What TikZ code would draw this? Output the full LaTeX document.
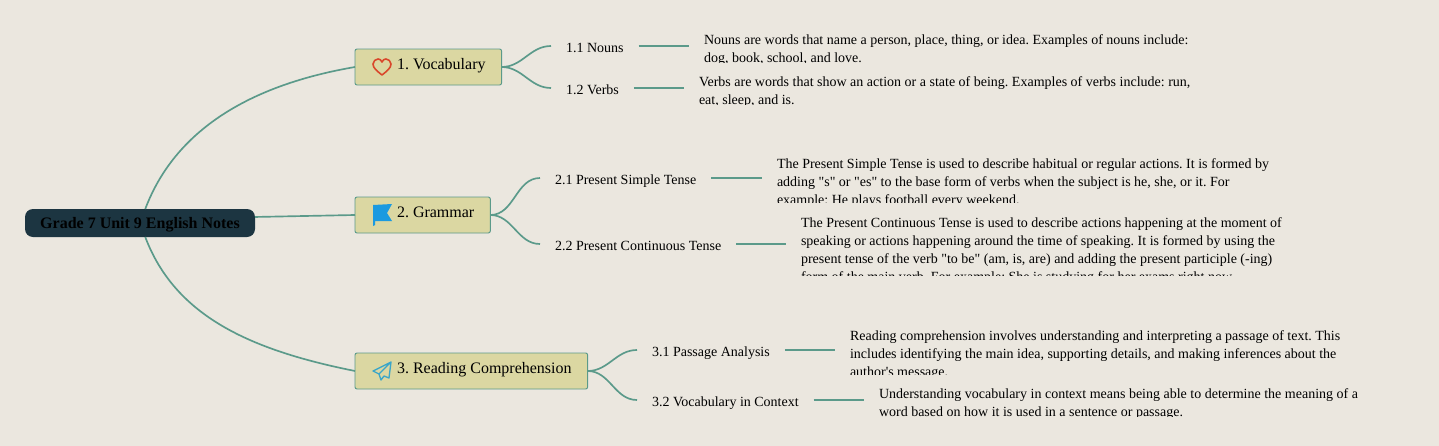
\documentclass[tikz,border=0pt]{standalone}
\usepackage{fontspec}
\setmainfont{Liberation Serif}[Ligatures=TeXOff]
\frenchspacing
\definecolor{paper}{HTML}{EBE7DF}
\definecolor{rootfill}{HTML}{1C3541}
\definecolor{topicfill}{HTML}{DBD7A2}
\definecolor{branchcol}{HTML}{5B9A8A}
\definecolor{heartcol}{HTML}{D9472B}
\definecolor{flagcol}{HTML}{1B9AE0}
\definecolor{planecol}{HTML}{3BA6C8}
\tikzset{
  root/.style={fill=rootfill, rounded corners=6pt, minimum width=172.5pt, minimum height=21pt,
    inner sep=0pt, outer sep=0pt, text height=8pt, text depth=0pt, font=\fontsize{12}{14}\selectfont\bfseries},
  topic/.style={draw=branchcol, fill=topicfill, line width=0.7pt, rounded corners=1.5pt, anchor=west,
    minimum height=27pt, inner xsep=12pt, inner ysep=0pt, outer sep=0pt, text height=10pt, text depth=6.2pt,
    font=\fontsize{12}{14}\selectfont},
  leaf/.style={anchor=west, inner xsep=11.25pt, inner ysep=0pt, outer sep=0pt, text height=9pt, text depth=0pt,
    font=\fontsize{10.5}{13.5}\selectfont},
  note/.style={anchor=west, inner xsep=11.25pt, inner ysep=0pt, outer sep=0pt,
    font=\fontsize{10.5}{13.5}\selectfont},
  branch/.style={draw=branchcol, line width=1.25pt},
  heart/.pic={\draw[heartcol, line width=1.2pt, line join=round] (0,8) .. controls (-5,4) and (-9,1) .. (-9,-3)
    .. controls (-9,-6) and (-6,-8) .. (-4,-8) .. controls (-2,-8) and (-1,-7) .. (0,-5)
    .. controls (1,-7) and (2,-8) .. (4,-8) .. controls (6,-8) and (9,-6) .. (9,-3)
    .. controls (9,1) and (5,4) .. cycle;},
  flag/.pic={\fill[flagcol] (-9,-10) -- (10,-11) -- (5,-2) -- (10,6) -- (-7,6) -- (-7,10) -- (-9,11) -- cycle;},
  plane/.pic={\draw[planecol, line width=1pt, line join=round] (9,-9) -- (-9,0) -- (-3,3) -- (-1,9) -- (2,5) -- (7,7) -- cycle
    (-3,3) -- (9,-9);}
}
% short label, cut off just under its baseline
\newcommand{\leafnode}[4]{%
  \begin{scope}
    \clip (#2,#3-12) rectangle (1439,#3+8);
    \node[leaf] (#1) at (#2,#3) {#4};
  \end{scope}}
% text block, cut off at the height of its box
\newcommand{\notenode}[5]{%
  \begin{scope}
    \clip (#2,#3-#4) rectangle (1439,#3+#4);
    \node[note] (#1) at (#2,#3) {\vbox to \dimexpr#4pt*3/2\relax{\hsize=560pt \parindent=0pt \raggedright\vskip1.5pt\strut #5\par\vss}};
  \end{scope}}
\begin{document}
\begin{tikzpicture}[x=0.75pt,y=-0.75pt]
\useasboundingbox (0,0) rectangle (1439,446);
\fill[paper] (0,0) rectangle (1439,446);
\node[root] (root) at (140,223) {Grade 7 Unit 9 English Notes};
\node[topic] (vocab) at (355,67) {\hspace*{19.5pt}1. Vocabulary};
\node[topic] (gram) at (355,215) {\hspace*{19.5pt}2. Grammar};
\node[topic] (read) at (355,371) {\hspace*{19.5pt}3. Reading Comprehension};
\pic at ([xshift=20.25pt]vocab.west) {heart};
\pic at ([xshift=20.25pt]gram.west) {flag};
\pic at ([xshift=20.25pt]read.west) {plane};
\leafnode{nouns}{551}{46}{1.1 Nouns}
\leafnode{verbs}{551}{88}{1.2 Verbs}
\leafnode{simple}{540}{178}{2.1 Present Simple Tense}
\leafnode{contin}{540}{244}{2.2 Present Continuous Tense}
\leafnode{passage}{637}{350}{3.1 Passage Analysis}
\leafnode{incontext}{637}{400}{3.2 Vocabulary in Context}
\notenode{nounsnote}{689}{46}{16}{Nouns are words that name a person, place, thing, or idea. Examples of nouns include:\\dog, book, school, and love.}
\notenode{verbsnote}{684}{88}{16}{Verbs are words that show an action or a state of being. Examples of verbs include: run,\\eat, sleep, and is.}
\notenode{simplenote}{762}{178}{24}{The Present Simple Tense is used to describe habitual or regular actions. It is formed by\\adding "s" or "es" to the base form of verbs when the subject is he, she, or it. For\\example: He plays football every weekend.}
\notenode{continnote}{786}{244}{31.5}{The Present Continuous Tense is used to describe actions happening at the moment of\\speaking or actions happening around the time of speaking. It is formed by using the\\present tense of the verb "to be" (am, is, are) and adding the present participle (-ing)\\form of the main verb. For example: She is studying for her exams right now.}
\notenode{passagenote}{835}{350}{24}{Reading comprehension involves understanding and interpreting a passage of text. This\\includes identifying the main idea, supporting details, and making inferences about the\\author's message.}
\notenode{incontextnote}{864}{400}{16}{Understanding vocabulary in context means being able to determine the meaning of a\\word based on how it is used in a sentence or passage.}
\draw[branch] (root) .. controls (175,130) and (250,85) .. (vocab.west);
\draw[branch] (root.3.5) -- (gram.west);
\draw[branch] (root) .. controls (175,316) and (250,350) .. (read.west);
\path[branch]
    (vocab.east) edge[out=0,in=180] (nouns.west)
    (vocab.east) edge[out=0,in=180] (verbs.west)
    (gram.east) edge[out=0,in=180] (simple.west)
    (gram.east) edge[out=0,in=180] (contin.west)
    (read.east) edge[out=0,in=180] (passage.west)
    (read.east) edge[out=0,in=180] (incontext.west)
    (nouns) edge (nounsnote)
    (verbs) edge (verbsnote)
    (simple) edge (simplenote)
    (contin) edge (continnote)
    (passage) edge (passagenote)
    (incontext) edge (incontextnote);
\end{tikzpicture}
\end{document}
